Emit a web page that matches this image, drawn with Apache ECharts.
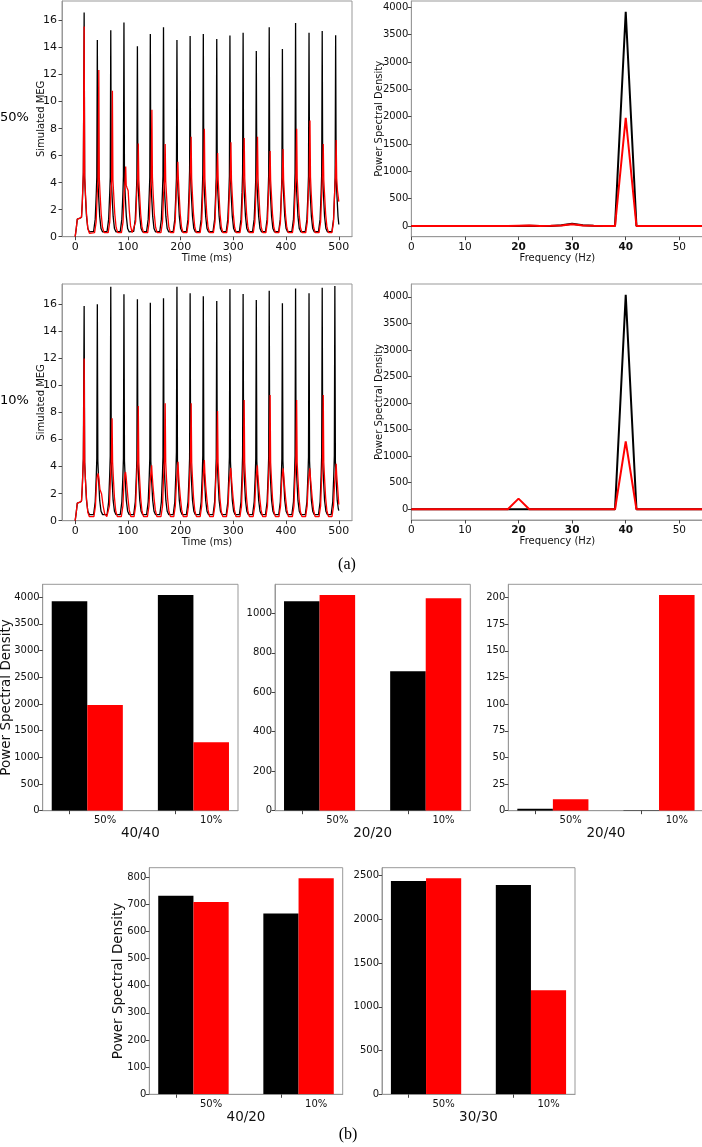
<!DOCTYPE html>
<html><head><meta charset="utf-8">
<script src="https://cdn.jsdelivr.net/npm/echarts@6/dist/echarts.min.js"></script>
<style>html,body{margin:0;padding:0;background:#fff}#c{width:702px;height:1147px}</style>
</head><body><div id="c"></div>
<script>
// ---------- tick labels ----------
const timeTicks = [0, 100, 200, 300, 400, 500];
const megTicks = [0, 2, 4, 6, 8, 10, 12, 14, 16];
const freqTicks = [0, 10, 20, 30, 40, 50];
const boldFreqTicks = [20, 30, 40];
const psdTicks = [0, 500, 1000, 1500, 2000, 2500, 3000, 3500, 4000];
const ticks4040 = [0, 500, 1000, 1500, 2000, 2500, 3000, 3500, 4000];
const ticks2020 = [0, 200, 400, 600, 800, 1000];
const ticks2040 = [0, 25, 50, 75, 100, 125, 150, 175, 200];
const ticks4020 = [0, 100, 200, 300, 400, 500, 600, 700, 800];
const ticks3030 = [0, 500, 1000, 1500, 2000, 2500];

// ---------- simulated MEG, 50% (time ms, value) ----------
const meg50Black = [[0,0],[2,0.6],[4,1.3],[6,1.4],[8,1.35],[10,1.25],[12,1.45],[13.5,2.5],[15.5,4.6],[17,16.6],[18,4.3],[19.5,3.0],[21.5,1.5],[24,0.6],[27,0.35],
[35,0.4],[38,1.3],[40,3.2],[41,4.4],[42,14.57],[43,4.3],[44.5,3.0],[46.5,1.5],[49,0.6],[52,0.35],
[60.5,0.4],[63.5,1.3],[65.5,3.2],[66.5,4.4],[67.5,15.28],[68.5,4.3],[70,3.0],[72,1.5],[74.5,0.6],[77.5,0.35],
[85.5,0.4],[88.5,1.3],[90.5,3.2],[91.5,4.5],[92.5,15.85],[93.5,4.3],[95,3.0],[97,1.5],[99.5,0.6],[102.5,0.35],
[111,0.4],[114,1.3],[116,3.2],[117,4.3],[118,14.1],[119,4.2],[120.5,3.0],[122.5,1.5],[125,0.6],[128,0.35],
[135.5,0.4],[138.5,1.3],[140.5,3.2],[141.5,4.4],[142.5,15.0],[143.5,4.3],[145,3.0],[147,1.5],[149.5,0.6],[152.5,0.35],
[160.5,0.4],[163.5,1.3],[165.5,3.3],[166.5,4.5],[167.5,15.5],[168.5,4.4],[170,3.0],[172,1.5],[174.5,0.6],[177.5,0.35],
[186,0.4],[189,1.3],[191,3.2],[192,4.3],[193,14.57],[194,4.2],[195.5,3.0],[197.5,1.5],[200,0.6],[203,0.35],
[211,0.4],[214,1.3],[216,3.4],[217,4.9],[218,14.86],[219,4.3],[220.5,3.0],[222.5,1.5],[225,0.6],[228,0.35],
[236,0.4],[239,1.3],[241,3.3],[242,4.6],[243,15.0],[244,4.3],[245.5,3.0],[247.5,1.5],[250,0.6],[253,0.35],
[261.5,0.4],[264.5,1.3],[266.5,3.2],[267.5,4.4],[268.5,14.64],[269.5,4.2],[271,3.0],[273,1.5],[275.5,0.6],[278.5,0.35],
[286.5,0.4],[289.5,1.3],[291.5,3.2],[292.5,4.5],[293.5,14.89],[294.5,4.3],[296,3.0],[298,1.5],[300.5,0.6],[303.5,0.35],
[311.5,0.4],[314.5,1.3],[316.5,3.3],[317.5,4.7],[318.5,15.1],[319.5,4.3],[321,3.0],[323,1.5],[325.5,0.6],[328.5,0.35],
[336.5,0.4],[339.5,1.3],[341.5,3.2],[342.5,4.3],[343.5,13.75],[344.5,4.2],[346,3.0],[348,1.5],[350.5,0.6],[353.5,0.35],
[361,0.4],[364,1.3],[366,3.3],[367,4.6],[368,15.5],[369,4.3],[370.5,3.0],[372.5,1.5],[375,0.6],[378,0.35],
[386,0.4],[389,1.3],[391,3.2],[392,4.4],[393,13.9],[394,4.2],[395.5,3.0],[397.5,1.5],[400,0.6],[403,0.35],
[411,0.4],[414,1.3],[416,3.3],[417,4.7],[418,15.83],[419,4.3],[420.5,3.0],[422.5,1.5],[425,0.6],[428,0.35],
[436.5,0.4],[439.5,1.3],[441.5,3.2],[442.5,4.5],[443.5,15.09],[444.5,4.3],[446,3.0],[448,1.5],[450.5,0.6],[453.5,0.35],
[461.5,0.4],[464.5,1.3],[466.5,3.3],[467.5,4.6],[468.5,15.23],[469.5,4.3],[471,3.0],[473,1.5],[475.5,0.6],[478.5,0.35],
[487,0.4],[490,1.3],[492,3.2],[493,4.4],[494,14.91],[495,4.2],[496.5,3.0],[498.5,1.5],[500,0.9]];

const meg50Red = [[0,0],[2,0.6],[4,1.3],[6,1.4],[8,1.35],[10,1.25],[12,1.45],[13.5,2.5],[15.5,4.8],[17,15.56],[18,4.5],[19.5,3.2],[21.5,1.7],[24,0.6],[27,0.25],
[36.8,0.3],[39.8,1.1],[41.8,3.2],[43.3,4.2],[44.8,12.35],[45.8,4.3],[47.3,3.1],[49.3,1.7],[51.8,0.7],[54.8,0.3],
[62.6,0.3],[65.6,1.1],[67.6,3.2],[69.1,4.1],[70.6,10.8],[71.6,4.2],[73.1,3.1],[75.1,1.7],[77.6,0.7],[80.6,0.3],
[87.8,0.3],[90.8,1.1],[92.8,3.2],[94.3,3.9],[95.8,5.2],[96.8,3.8],[98.5,3.6],[100.5,3.4],[102.5,2.0],[105,0.8],[108,0.3],
[111.7,0.3],[114.7,1.1],[116.7,3.2],[118.2,4.2],[119.7,6.9],[120.7,4.2],[122.2,3.1],[124.2,1.7],[126.7,0.7],[129.7,0.3],
[137.5,0.3],[140.5,1.1],[142.5,3.3],[144,4.3],[145.5,9.4],[146.5,4.4],[148,3.1],[150,1.7],[152.5,0.7],[155.5,0.3],
[162.7,0.3],[165.7,1.1],[167.7,3.2],[169.2,4.0],[170.7,6.86],[171.7,4.1],[173.2,3.1],[175.2,1.7],[177.7,0.7],[180.7,0.3],
[186.7,0.3],[189.7,1.1],[191.7,3.2],[193.2,4.2],[194.7,5.55],[195.7,4.3],[197.2,3.1],[199.2,1.7],[201.7,0.7],[204.7,0.3],
[211.9,0.3],[214.9,1.1],[216.9,3.4],[218.4,4.9],[219.9,7.4],[220.9,4.3],[222.4,3.1],[224.4,1.7],[226.9,0.7],[229.9,0.3],
[237,0.3],[240,1.1],[242,3.2],[243.5,4.4],[245,8.0],[246,4.3],[247.5,3.1],[249.5,1.7],[252,0.7],[255,0.3],
[262.2,0.3],[265.2,1.1],[267.2,3.3],[268.7,4.6],[270.2,6.2],[271.2,4.2],[272.7,3.1],[274.7,1.7],[277.2,0.7],[280.2,0.3],
[287.4,0.3],[290.4,1.1],[292.4,3.2],[293.9,4.4],[295.4,7.0],[296.4,4.2],[297.9,3.1],[299.9,1.7],[302.4,0.7],[305.4,0.3],
[312.6,0.3],[315.6,1.1],[317.6,3.3],[319.1,4.6],[320.6,7.3],[321.6,4.3],[323.1,3.1],[325.1,1.7],[327.6,0.7],[330.6,0.3],
[337.8,0.3],[340.8,1.1],[342.8,3.3],[344.3,4.8],[345.8,7.4],[346.8,4.3],[348.3,3.1],[350.3,1.7],[352.8,0.7],[355.8,0.3],
[361.7,0.3],[364.7,1.1],[366.7,3.3],[368.2,4.5],[369.7,6.35],[370.7,4.2],[372.2,3.1],[374.2,1.7],[376.7,0.7],[379.7,0.3],
[386.3,0.3],[389.3,1.1],[391.3,3.2],[392.8,4.4],[394.3,6.5],[395.3,4.2],[396.8,3.1],[398.8,1.7],[401.3,0.7],[404.3,0.3],
[412.1,0.3],[415.1,1.1],[417.1,3.3],[418.6,4.6],[420.1,8.0],[421.1,4.3],[422.6,3.1],[424.6,1.7],[427.1,0.7],[430.1,0.3],
[437.3,0.3],[440.3,1.1],[442.3,3.3],[443.8,4.5],[445.3,8.6],[446.3,4.4],[447.8,3.1],[449.8,1.7],[452.3,0.7],[455.3,0.3],
[462.5,0.3],[465.5,1.1],[467.5,3.2],[469,4.6],[470.5,6.86],[471.5,4.2],[473,3.1],[475,1.7],[477.5,0.7],[480.5,0.3],
[487,0.3],[490,1.1],[492,3.2],[493.5,4.4],[495,7.16],[496,4.3],[497.5,3.4],[500,2.6]];

// ---------- simulated MEG, 10% ----------
const meg10Black = [[0,0],[2,0.6],[4,1.3],[6,1.4],[8,1.35],[10,1.3],[12,1.45],[13.5,2.5],[15.5,4.6],[17,15.88],[18,4.3],[19.5,3.0],[21.5,1.5],[24,0.7],[27,0.45],
[35,0.45],[38,1.4],[40,3.3],[41,4.6],[42,16.0],[43,4.4],[44.5,3.0],[46.5,1.5],[49,0.7],[52,0.45],
[60.5,0.45],[63.5,1.4],[65.5,3.4],[66.5,4.8],[67.5,17.3],[68.5,4.4],[70,3.0],[72,1.5],[74.5,0.7],[77.5,0.45],
[85.5,0.45],[88.5,1.4],[90.5,3.3],[91.5,4.6],[92.5,16.74],[93.5,4.4],[95,3.0],[97,1.5],[99.5,0.7],[102.5,0.45],
[111,0.45],[114,1.4],[116,3.3],[117,4.5],[118,16.37],[119,4.4],[120.5,3.0],[122.5,1.5],[125,0.7],[128,0.45],
[135.5,0.45],[138.5,1.4],[140.5,3.3],[141.5,4.6],[142.5,16.12],[143.5,4.4],[145,3.0],[147,1.5],[149.5,0.7],[152.5,0.45],
[160.5,0.45],[163.5,1.4],[165.5,3.4],[166.5,4.7],[167.5,16.44],[168.5,4.4],[170,3.0],[172,1.5],[174.5,0.7],[177.5,0.45],
[186,0.45],[189,1.4],[191,3.5],[192,5.1],[193,17.3],[194,4.4],[195.5,3.0],[197.5,1.5],[200,0.7],[203,0.45],
[211,0.45],[214,1.4],[216,3.3],[217,4.6],[218,16.81],[219,4.4],[220.5,3.0],[222.5,1.5],[225,0.7],[228,0.45],
[236,0.45],[239,1.4],[241,3.4],[242,4.8],[243,16.6],[244,4.4],[245.5,3.0],[247.5,1.5],[250,0.7],[253,0.45],
[261.5,0.45],[264.5,1.4],[266.5,3.3],[267.5,4.6],[268.5,16.25],[269.5,4.4],[271,3.0],[273,1.5],[275.5,0.7],[278.5,0.45],
[286.5,0.45],[289.5,1.4],[291.5,3.4],[292.5,4.7],[293.5,17.13],[294.5,4.4],[296,3.0],[298,1.5],[300.5,0.7],[303.5,0.45],
[311.5,0.45],[314.5,1.4],[316.5,3.4],[317.5,4.8],[318.5,16.76],[319.5,4.4],[321,3.0],[323,1.5],[325.5,0.7],[328.5,0.45],
[336.5,0.45],[339.5,1.4],[341.5,3.3],[342.5,4.6],[343.5,16.32],[344.5,4.4],[346,3.0],[348,1.5],[350.5,0.7],[353.5,0.45],
[361,0.45],[364,1.4],[366,3.4],[367,4.7],[368,17.0],[369,4.4],[370.5,3.0],[372.5,1.5],[375,0.7],[378,0.45],
[386,0.45],[389,1.4],[391,3.3],[392,4.6],[393,16.07],[394,4.4],[395.5,3.0],[397.5,1.5],[400,0.7],[403,0.45],
[411,0.45],[414,1.4],[416,3.4],[417,4.8],[418,17.16],[419,4.4],[420.5,3.0],[422.5,1.5],[425,0.7],[428,0.45],
[436.5,0.45],[439.5,1.4],[441.5,3.4],[442.5,4.7],[443.5,16.81],[444.5,4.4],[446,3.0],[448,1.5],[450.5,0.7],[453.5,0.45],
[461.5,0.45],[464.5,1.4],[466.5,3.4],[467.5,4.8],[468.5,17.23],[469.5,4.4],[471,3.0],[473,1.5],[475.5,0.7],[478.5,0.45],
[485.5,0.45],[488.5,1.4],[490.5,3.4],[491.5,4.8],[492.5,17.36],[493.5,4.4],[495,3.0],[497,1.5],[499,0.9],[500,0.75]];

const meg10Red = [[0,0],[2,0.6],[4,1.3],[6,1.4],[8,1.35],[10,1.3],[12,1.45],[13.5,2.5],[15.5,4.5],[17,12.0],[18,4.2],[19.5,3.0],[21.5,1.6],[24,0.6],[27,0.3],
[35.5,0.3],[38.5,1.1],[40.5,2.8],[42,3.3],[43.5,3.5],[45,3.1],[47,2.3],[50,2.0],[53,1.1],[56,0.5],[60,0.3],
[62,0.3],[65,1.1],[67,3.2],[68.5,4.4],[70,7.57],[71,4.3],[72.5,3.1],[74.5,1.7],[77,0.7],[80,0.3],
[87.5,0.3],[90.5,1.1],[92.5,2.8],[94,3.4],[95.5,3.6],[96.5,3.3],[98,2.6],[100,1.7],[102.5,0.8],[105.5,0.3],
[111.7,0.3],[114.7,1.1],[116.7,3.3],[118.2,4.4],[119.7,8.48],[120.7,4.3],[122.2,3.1],[124.2,1.7],[126.7,0.7],[129.7,0.3],
[137,0.3],[140,1.1],[142,2.8],[143.5,3.5],[145,4.1],[146,3.4],[147.5,2.6],[149.5,1.7],[152,0.8],[155,0.3],
[162.7,0.3],[165.7,1.1],[167.7,3.3],[169.2,4.4],[170.7,8.68],[171.7,4.3],[173.2,3.1],[175.2,1.7],[177.7,0.7],[180.7,0.3],
[187,0.3],[190,1.1],[192,2.8],[193.5,3.6],[195,4.36],[196,3.5],[197.5,2.6],[199.5,1.7],[202,0.8],[205,0.3],
[212,0.3],[215,1.1],[217,3.3],[218.5,4.4],[220,8.68],[221,4.3],[222.5,3.1],[224.5,1.7],[227,0.7],[230,0.3],
[237,0.3],[240,1.1],[242,2.8],[243.5,3.6],[245,4.49],[246,3.5],[247.5,2.6],[249.5,1.7],[252,0.8],[255,0.3],
[262,0.3],[265,1.1],[267,3.3],[268.5,4.4],[270,8.11],[271,4.3],[272.5,3.1],[274.5,1.7],[277,0.7],[280,0.3],
[287,0.3],[290,1.1],[292,2.8],[293.5,3.4],[295,3.9],[296,3.4],[297.5,2.6],[299.5,1.7],[302,0.8],[305,0.3],
[312.5,0.3],[315.5,1.1],[317.5,3.3],[319,4.5],[320.5,8.92],[321.5,4.3],[323,3.1],[325,1.7],[327.5,0.7],[330.5,0.3],
[337.5,0.3],[340.5,1.1],[342.5,2.8],[344,3.5],[345.5,4.1],[346.5,3.4],[348,2.6],[350,1.7],[352.5,0.8],[355.5,0.3],
[361.7,0.3],[364.7,1.1],[366.7,3.3],[368.2,4.5],[369.7,9.3],[370.7,4.3],[372.2,3.1],[374.2,1.7],[376.7,0.7],[379.7,0.3],
[386.5,0.3],[389.5,1.1],[391.5,2.8],[393,3.4],[394.5,3.87],[395.5,3.3],[397,2.6],[399,1.7],[401.5,0.8],[404.5,0.3],
[412,0.3],[415,1.1],[417,3.3],[418.5,4.5],[420,8.92],[421,4.3],[422.5,3.1],[424.5,1.7],[427,0.7],[430,0.3],
[437,0.3],[440,1.1],[442,2.8],[443.5,3.4],[445,3.87],[446,3.3],[447.5,2.6],[449.5,1.7],[452,0.8],[455,0.3],
[462.5,0.3],[465.5,1.1],[467.5,3.3],[469,4.5],[470.5,9.3],[471.5,4.3],[473,3.1],[475,1.7],[477.5,0.7],[480.5,0.3],
[487,0.3],[490,1.1],[492,2.8],[493.5,3.4],[495,4.2],[496,3.4],[497.5,2.6],[500,1.2]];

// ---------- power spectral density (Hz) ----------
const freqs      = [0,2,4,6,8,10,12,14,16,18,20,22,24,26,28,30,32,34,36,38,40,42,44,46,48,50,52,54,56];
const psd50Black = [0,0,0,0,0,0,0,0,0,0,2,3,0,2,12,40,14,4,0,0,3920,0,0,0,0,0,0,0,0];
const psd50Red   = [0,0,0,0,0,0,0,0,0,0,6,8,2,3,8,30,10,3,2,0,1980,0,0,0,0,0,0,0,0];
const psd10Black = [0,0,0,0,0,0,0,0,0,0,0,0,0,0,0,0,0,0,0,0,4040,0,0,0,0,0,0,0,0];
const psd10Red   = [0,0,0,0,0,0,0,0,0,0,200,0,0,0,0,0,0,0,0,0,1280,0,0,0,0,0,0,0,0];

// ---------- bar panels ----------
const conditions = ['50%', '10%'];
const bar4040Black = [3925, 4043], bar4040Red = [1981, 1282];
const bar2020Black = [1061, 706],  bar2020Red = [1093, 1076];
const bar2040Black = [1.9, 0.5],   bar2040Red = [10.7, 202.5];
const bar4020Black = [731, 665],   bar4020Red = [708, 795];
const bar3030Black = [2439, 2394], bar3030Red = [2470, 1189];

// ---------- styling ----------
const FF = 'DejaVu Sans', AX = '#999', TXT = '#111', BLK = '#000', RED = '#ff0000';
const BW = 0.335;

const grids = [
  {left: 62,     top: 1,     width: 290,   height: 235.7},
  {left: 411.33, top: 1,     width: 292,   height: 235.7},
  {left: 62,     top: 284,   width: 290,   height: 236.7},
  {left: 411.33, top: 284,   width: 292,   height: 236},
  {left: 42.7,   top: 584.3, width: 195.3, height: 226.4},
  {left: 275,    top: 584.3, width: 195.3, height: 226.4},
  {left: 508.3,  top: 584.3, width: 195.3, height: 226.4},
  {left: 149.3,  top: 867.7, width: 193.4, height: 226.6},
  {left: 382,    top: 867.7, width: 193,   height: 226.6}
].map(g => Object.assign({show: true, borderColor: AX, borderWidth: 1, containLabel: false, outerBoundsMode: 'none'}, g));

const plainFmt = v => String(v);
function axis(o) {
  return {
    type: 'value', gridIndex: o.g, min: o.min, max: o.max,
    axisLine: {show: true, onZero: false, lineStyle: {color: AX, width: 1}},
    axisTick: {show: true, length: 3.5, lineStyle: {color: '#444'}, customValues: o.ticks},
    axisLabel: {customValues: o.labels || o.ticks, formatter: o.fmt || plainFmt, fontSize: o.ls || 10,
      margin: o.lm == null ? 3 : o.lm, color: TXT, fontFamily: FF, rich: o.rich},
    splitLine: {show: false},
    name: o.name || '', nameLocation: 'middle', nameGap: o.ng || 10,
    nameMoveOverlap: !o.fixedName,
    nameTextStyle: {fontSize: o.ns || 10, color: TXT, fontFamily: FF}
  };
}
const freqFmt = v => boldFreqTicks.indexOf(v) >= 0 ? '{b|' + v + '}' : String(v);
const freqRich = {b: {fontWeight: 'bold', fontSize: 10.5, fontFamily: FF, color: TXT}};
const catTicks = [-BW / 2, 1 - BW / 2];
const catLabels = [BW / 2, 1 + BW / 2];
const catFmt = v => conditions[Math.round(v - BW / 2)];

const xAxes = [
  axis({g: 0, min: -25, max: 525, ticks: timeTicks, ls: 11, lm: 5, name: 'Time (ms)', ng: 13, ns: 10}),
  axis({g: 1, min: 0, max: 292 / 5.36, ticks: freqTicks, fmt: freqFmt, rich: freqRich, ls: 10.5, lm: 5, name: 'Frequency (Hz)', ng: 13, ns: 10}),
  axis({g: 2, min: -25, max: 525, ticks: timeTicks, ls: 11, lm: 5, name: 'Time (ms)', ng: 13, ns: 10}),
  axis({g: 3, min: 0, max: 292 / 5.36, ticks: freqTicks, fmt: freqFmt, rich: freqRich, ls: 10.5, lm: 5, name: 'Frequency (Hz)', ng: 13, ns: 10}),
  axis({g: 4, min: -0.42, max: 1.42, ticks: catTicks, labels: catLabels, fmt: catFmt, lm: 5, name: '40/40', ng: 14, ns: 13.5}),
  axis({g: 5, min: -0.42, max: 1.42, ticks: catTicks, labels: catLabels, fmt: catFmt, lm: 5, name: '20/20', ng: 14, ns: 13.5}),
  axis({g: 6, min: -0.42, max: 1.42, ticks: catTicks, labels: catLabels, fmt: catFmt, lm: 5, name: '20/40', ng: 14, ns: 13.5}),
  axis({g: 7, min: -0.42, max: 1.42, ticks: catTicks, labels: catLabels, fmt: catFmt, lm: 5, name: '40/20', ng: 14, ns: 13.5}),
  axis({g: 8, min: -0.42, max: 1.42, ticks: catTicks, labels: catLabels, fmt: catFmt, lm: 5, name: '30/30', ng: 14, ns: 13.5})
];
const yAxes = [
  axis({g: 0, min: 0, max: 17.45, ticks: megTicks, ls: 11, lm: 5, name: 'Simulated MEG', ng: 16, ns: 10, fixedName: true}),
  axis({g: 1, min: -196, max: 4116, ticks: psdTicks, ls: 10, lm: 3, name: 'Power Spectral Density', ng: 27, ns: 10, fixedName: true}),
  axis({g: 2, min: 0, max: 17.5, ticks: megTicks, ls: 11, lm: 5, name: 'Simulated MEG', ng: 16, ns: 10, fixedName: true}),
  axis({g: 3, min: -202, max: 4242, ticks: psdTicks, ls: 10, lm: 3, name: 'Power Spectral Density', ng: 27, ns: 10, fixedName: true}),
  axis({g: 4, min: 0, max: 4242, ticks: ticks4040, lm: 3, name: 'Power Spectral Density', ng: 29, ns: 13.5, fixedName: true}),
  axis({g: 5, min: 0, max: 1147, ticks: ticks2020, lm: 3}),
  axis({g: 6, min: 0, max: 212.5, ticks: ticks2040, lm: 3}),
  axis({g: 7, min: 0, max: 834, ticks: ticks4020, lm: 3, name: 'Power Spectral Density', ng: 24, ns: 13.5, fixedName: true}),
  axis({g: 8, min: 0, max: 2591, ticks: ticks3030, lm: 3})
];

function line(idx, data, color, w) {
  return {type: 'line', xAxisIndex: idx, yAxisIndex: idx, data: data, showSymbol: false, symbol: 'none',
    lineStyle: {color: color, width: w}, itemStyle: {color: color}, clip: true, silent: true};
}
const zip = (xs, ys) => xs.map((x, i) => [x, ys[i]]);

function bars(idx, values, color, side) {
  return {
    type: 'custom', xAxisIndex: idx, yAxisIndex: idx, clip: true, silent: true,
    itemStyle: {color: color},
    encode: {x: 0, y: 1},
    data: values.map((v, i) => [i, v]),
    renderItem: function (params, api) {
      const i = api.value(0), v = api.value(1);
      const x0 = side < 0 ? i - BW : i;
      const p0 = api.coord([x0, v]);
      const p1 = api.coord([x0 + BW, 0]);
      return {type: 'rect', shape: {x: p0[0], y: p0[1], width: p1[0] - p0[0], height: p1[1] - p0[1]},
        style: {fill: color}};
    }
  };
}

const series = [
  line(0, meg50Black, BLK, 1.3), line(0, meg50Red, RED, 1.3),
  line(1, zip(freqs, psd50Black), BLK, 2), line(1, zip(freqs, psd50Red), RED, 2),
  line(2, meg10Black, BLK, 1.3), line(2, meg10Red, RED, 1.3),
  line(3, zip(freqs, psd10Black), BLK, 2), line(3, zip(freqs, psd10Red), RED, 2),
  bars(4, bar4040Black, BLK, -1), bars(4, bar4040Red, RED, 1),
  bars(5, bar2020Black, BLK, -1), bars(5, bar2020Red, RED, 1),
  bars(6, bar2040Black, BLK, -1), bars(6, bar2040Red, RED, 1),
  bars(7, bar4020Black, BLK, -1), bars(7, bar4020Red, RED, 1),
  bars(8, bar3030Black, BLK, -1), bars(8, bar3030Red, RED, 1)
];

function txt(t, x, y, size, family, align) {
  return {type: 'text', x: x, y: y, silent: true,
    style: {text: t, fontSize: size, fontFamily: family, fill: '#000',
      align: align || 'center', verticalAlign: 'middle', textAlign: align || 'center', textVerticalAlign: 'middle'}};
}

const chart = echarts.init(document.getElementById('c'), null, {renderer: 'canvas'});
chart.setOption({
  animation: false,
  backgroundColor: '#fff',
  grid: grids,
  xAxis: xAxes,
  yAxis: yAxes,
  series: series,
  graphic: [
    txt('50%', 0, 118, 13, FF, 'left'),
    txt('10%', 0, 401, 13, FF, 'left'),
    txt('(a)', 347, 565, 16, 'Liberation Serif'),
    txt('(b)', 348, 1135, 16, 'Liberation Serif')
  ]
});
</script>
</body></html>
